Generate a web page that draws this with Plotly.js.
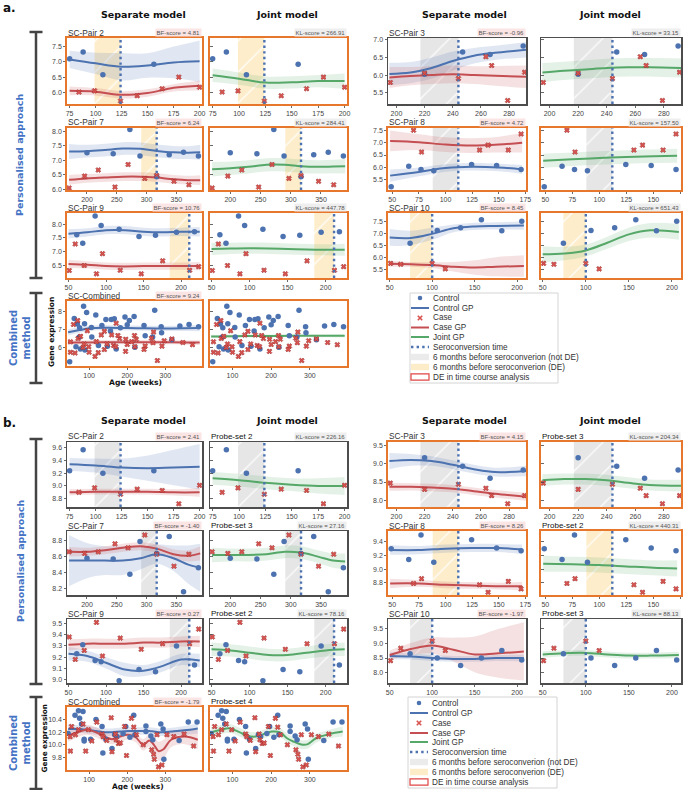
<!DOCTYPE html>
<html><head><meta charset="utf-8">
<script src="https://cdn.plot.ly/plotly-3.0.1.min.js"></script>
<style>body{margin:0;background:#fff}#chart{width:685px;height:790px}</style>
</head><body><div id="chart"></div>
<script>
// ---------- DATA ----------
// Pair 2
var p2_ctrlX = [75, 88, 107, 156];
var p2_caseX = [84, 99, 124, 140, 164, 180, 200];
var p2_window = [99, 124];
var a2_ctrlY = [7.10, 7.32, 6.58, 6.92];
var a2_caseY = [6.01, 6.05, 5.72, 5.89, 6.12, 6.50, 6.17];
var b2_ctrlY = [9.24, 9.57, 9.20, 9.24];
var b2_caseY = [8.90, 8.97, 8.87, 8.95, 8.93, 8.72, 9.01];
var p2_gpX = [75, 100, 125, 150, 175, 200];
var a2_ctrlMu = [7.08, 6.95, 6.84, 6.88, 6.98, 7.02];
var a2_ctrlSd = [0.28, 0.35, 0.45, 0.40, 0.52, 0.68];
var a2_caseMu = [6.05, 6.02, 5.92, 5.98, 6.15, 6.22];
var a2_caseSd = [0.14, 0.12, 0.12, 0.12, 0.12, 0.16];
var a2_jointMu = [6.56, 6.45, 6.32, 6.33, 6.37, 6.37];
var a2_jointSd = [0.22, 0.20, 0.20, 0.20, 0.20, 0.25];
var b2_ctrlMu = [9.34, 9.32, 9.29, 9.28, 9.29, 9.30];
var b2_ctrlSd = [0.10, 0.11, 0.14, 0.20, 0.28, 0.36];
var b2_caseMu = [8.90, 8.91, 8.91, 8.91, 8.90, 8.90];
var b2_caseSd = [0.05, 0.045, 0.045, 0.045, 0.05, 0.07];
var b2_jointMu = [9.12, 9.09, 9.05, 9.02, 9.00, 9.00];
var b2_jointSd = [0.10, 0.10, 0.10, 0.10, 0.12, 0.14];
// Pair 7
var p7_ctrlX = [200, 244, 272, 289, 317, 338, 362, 387];
var p7_caseX = [170, 196, 219, 247, 269, 297, 317, 346, 371];
var p7_window = [291, 317];
var a7_ctrlY = [7.27, 7.23, 8.07, 7.15, 6.44, 7.20, 7.28, 7.15];
var a7_caseY = [6.05, 6.46, 6.67, 6.08, 6.86, 6.38, 6.48, 6.28, 6.16];
var b7_ctrlY = [8.58, 8.57, 8.38, 8.79, 8.64, 8.85, 8.16, 8.46];
var b7_caseY = [8.66, 8.64, 8.66, 8.76, 8.71, 8.87, 8.63, 8.48, 8.63];
var p7_gpX = [170, 200, 230, 260, 290, 317, 345, 370, 390];
var a7_ctrlMu = [7.31, 7.32, 7.36, 7.41, 7.40, 7.33, 7.28, 7.27, 7.28];
var a7_ctrlSd = [0.26, 0.22, 0.22, 0.22, 0.22, 0.22, 0.22, 0.22, 0.26];
var a7_caseMu = [6.33, 6.38, 6.41, 6.44, 6.44, 6.41, 6.35, 6.32, 6.32];
var a7_caseSd = [0.17, 0.15, 0.15, 0.15, 0.15, 0.15, 0.15, 0.15, 0.17];
var a7_jointMu = [6.70, 6.73, 6.78, 6.85, 6.85, 6.80, 6.78, 6.79, 6.80];
var a7_jointSd = [0.25, 0.23, 0.23, 0.23, 0.23, 0.23, 0.23, 0.23, 0.25];
var b7_ctrlMu = [8.55, 8.55, 8.55, 8.55, 8.58, 8.63, 8.58, 8.50, 8.46];
var b7_ctrlSd = [0.32, 0.22, 0.18, 0.18, 0.14, 0.12, 0.16, 0.24, 0.30];
var b7_caseMu = [8.66, 8.66, 8.68, 8.71, 8.73, 8.70, 8.63, 8.61, 8.64];
var b7_caseSd = [0.06, 0.05, 0.05, 0.05, 0.05, 0.05, 0.06, 0.07, 0.09];
var b7_jointMu = [8.62, 8.62, 8.62, 8.63, 8.66, 8.65, 8.60, 8.55, 8.54];
var b7_jointSd = [0.09, 0.08, 0.08, 0.08, 0.08, 0.08, 0.08, 0.09, 0.10];
// Pair 9
var p9_ctrlX = [61, 69, 85.5, 93.5, 117.5, 144, 166, 194, 218];
var p9_caseX = [51, 59, 71, 87.3, 95.3, 119, 147, 175.5, 211.5, 223.6];
var p9_window = [185, 211];
var a9_ctrlY = [7.61, 7.31, 8.29, 7.95, 7.81, 7.55, 7.60, 7.70, 7.72];
var a9_caseY = [6.32, 7.28, 6.50, 6.20, 6.93, 6.33, 6.20, 6.67, 6.33, 6.46];
var b9_ctrlY = [9.23, 9.31, 9.17, 9.16, 8.99, 9.09, 9.07, 9.30, 9.13];
var b9_caseY = [9.38, 9.18, 9.26, 9.51, 9.21, 9.37, 9.27, 9.32, 9.32, 9.45];
var p9_gpX = [50, 75, 100, 125, 150, 175, 200, 225];
var a9_ctrlMu = [7.65, 7.70, 7.78, 7.78, 7.72, 7.70, 7.72, 7.72];
var a9_ctrlSd = [0.17, 0.15, 0.15, 0.15, 0.15, 0.15, 0.15, 0.17];
var a9_caseMu = [6.56, 6.53, 6.48, 6.47, 6.48, 6.48, 6.48, 6.48];
var a9_caseSd = [0.15, 0.13, 0.13, 0.13, 0.13, 0.13, 0.13, 0.15];
var a9_jointMu = [7.10, 7.12, 7.13, 7.12, 7.10, 7.08, 7.07, 7.07];
var a9_jointSd = [0.22, 0.20, 0.20, 0.20, 0.20, 0.20, 0.20, 0.22];
var b9_ctrlMu = [9.23, 9.21, 9.15, 9.09, 9.08, 9.12, 9.18, 9.17];
var b9_ctrlSd = [0.06, 0.05, 0.05, 0.06, 0.05, 0.05, 0.05, 0.06];
var b9_caseMu = [9.31, 9.32, 9.32, 9.32, 9.33, 9.33, 9.34, 9.34];
var b9_caseSd = [0.05, 0.045, 0.045, 0.045, 0.045, 0.045, 0.045, 0.05];
var b9_jointMu = [9.27, 9.26, 9.24, 9.22, 9.22, 9.24, 9.26, 9.27];
var b9_jointSd = [0.06, 0.055, 0.055, 0.055, 0.055, 0.055, 0.055, 0.06];
// Pair 3
var p3_ctrlX = [220, 247, 266.5, 290];
var p3_caseX = [195.6, 220, 244, 263.5, 267.6, 279, 291];
var p3_window = [217, 244];
var a3_ctrlY = [6.02, 6.65, 6.58, 6.82];
var a3_caseY = [5.79, 6.05, 5.90, 6.52, 6.27, 5.28, 6.08];
var b3_ctrlY = [9.16, 8.93, 8.60, 8.83];
var b3_caseY = [8.47, 8.30, 8.44, 8.33, 8.13, 7.91, 8.13];
var p3_gpX = [195, 210, 225, 240, 255, 270, 292];
var a3_ctrlMu = [6.03, 6.07, 6.20, 6.40, 6.55, 6.63, 6.72];
var a3_ctrlSd = [0.32, 0.30, 0.30, 0.27, 0.22, 0.20, 0.22];
var a3_caseMu = [5.93, 5.97, 6.00, 6.02, 6.00, 5.98, 5.95];
var a3_caseSd = [0.30, 0.26, 0.25, 0.25, 0.25, 0.28, 0.32];
var a3_jointMu = [6.07, 6.12, 6.16, 6.20, 6.22, 6.22, 6.20];
var a3_jointSd = [0.27, 0.26, 0.26, 0.26, 0.26, 0.26, 0.27];
var b3_ctrlMu = [9.07, 9.10, 9.07, 8.97, 8.85, 8.77, 8.80];
var b3_ctrlSd = [0.22, 0.16, 0.13, 0.12, 0.12, 0.12, 0.14];
var b3_caseMu = [8.37, 8.37, 8.35, 8.32, 8.25, 8.18, 8.10];
var b3_caseSd = [0.11, 0.10, 0.10, 0.10, 0.10, 0.10, 0.11];
var b3_jointMu = [8.55, 8.58, 8.58, 8.55, 8.48, 8.42, 8.40];
var b3_jointSd = [0.16, 0.15, 0.15, 0.15, 0.15, 0.15, 0.16];
// Pair 8
var p8_ctrlX = [49, 65.5, 77, 89, 124.5, 148, 171];
var p8_caseX = [70, 77.5, 132, 140, 159, 171];
var p8_window = [88, 112];
var a8_ctrlY = [5.22, 6.05, 5.92, 5.87, 6.12, 6.08, 5.92];
var a8_caseY = [7.50, 6.62, 6.70, 6.90, 6.70, 7.35];
var b8_ctrlY = [9.30, 9.14, 9.50, 9.10, 9.43, 9.31, 9.27];
var b8_caseY = [8.79, 8.86, 8.77, 8.66, 8.82, 8.71];
var p8_gpX = [48, 75, 100, 125, 150, 172];
var a8_ctrlMu = [5.67, 5.82, 5.98, 6.03, 6.00, 5.92];
var a8_ctrlSd = [0.25, 0.18, 0.15, 0.15, 0.15, 0.18];
var a8_caseMu = [7.07, 7.02, 6.92, 6.88, 6.92, 7.00];
var a8_caseSd = [0.42, 0.32, 0.30, 0.30, 0.32, 0.40];
var a8_jointMu = [6.27, 6.33, 6.38, 6.42, 6.45, 6.47];
var a8_jointSd = [0.28, 0.27, 0.27, 0.27, 0.27, 0.28];
var b8_ctrlMu = [9.28, 9.28, 9.30, 9.31, 9.31, 9.29];
var b8_ctrlSd = [0.07, 0.06, 0.06, 0.06, 0.06, 0.07];
var b8_caseMu = [8.79, 8.79, 8.77, 8.76, 8.75, 8.75];
var b8_caseSd = [0.07, 0.05, 0.05, 0.05, 0.05, 0.06];
var b8_jointMu = [9.08, 9.07, 9.06, 9.04, 9.02, 9.01];
var b8_jointSd = [0.12, 0.11, 0.11, 0.11, 0.11, 0.12];
// Pair 10
var p10_ctrlX = [74, 106, 133.5, 158, 182, 205.5];
var p10_caseX = [51, 63, 100, 115.5];
var p10_window = [74, 100];
var a10_ctrlY = [6.58, 7.11, 7.23, 7.56, 7.10, 7.50];
var a10_caseY = [5.74, 5.70, 5.74, 5.51];
var b10_ctrlY = [8.64, 8.50, 8.25, 8.50, 8.75, 8.43];
var b10_caseY = [8.41, 8.83, 9.07, 8.75];
var p10_gpX = [50, 75, 100, 125, 150, 175, 208];
var a10_ctrlMu = [6.82, 6.80, 6.97, 7.20, 7.28, 7.30, 7.32];
var a10_ctrlSd = [0.35, 0.30, 0.25, 0.16, 0.15, 0.15, 0.18];
var a10_caseMu = [5.72, 5.70, 5.67, 5.60, 5.57, 5.60, 5.63];
var a10_caseSd = [0.12, 0.10, 0.12, 0.20, 0.30, 0.40, 0.45];
var a10_jointMu = [6.12, 6.15, 6.28, 6.60, 6.95, 7.12, 7.05];
var a10_jointSd = [0.33, 0.28, 0.25, 0.25, 0.28, 0.30, 0.33];
var b10_ctrlMu = [8.57, 8.55, 8.50, 8.47, 8.47, 8.50, 8.50];
var b10_ctrlSd = [0.12, 0.10, 0.10, 0.10, 0.10, 0.10, 0.12];
var b10_caseMu = [8.60, 8.80, 8.92, 8.78, 8.62, 8.65, 8.72];
var b10_caseSd = [0.15, 0.20, 0.27, 0.40, 0.60, 0.80, 0.98];
var b10_jointMu = [8.62, 8.66, 8.67, 8.62, 8.58, 8.58, 8.60];
var b10_jointSd = [0.11, 0.10, 0.10, 0.10, 0.10, 0.10, 0.11];
// Combined (panel a: pooled raw values of all pairs)
var ac_ctrlX = [].concat(p2_ctrlX, p7_ctrlX, p9_ctrlX, p3_ctrlX, p8_ctrlX, p10_ctrlX);
var ac_ctrlY = [].concat(a2_ctrlY, a7_ctrlY, a9_ctrlY, a3_ctrlY, a8_ctrlY, a10_ctrlY);
var ac_caseX = [].concat(p2_caseX, p7_caseX, p9_caseX, p3_caseX, p8_caseX, p10_caseX);
var ac_caseY = [].concat(a2_caseY, a7_caseY, a9_caseY, a3_caseY, a8_caseY, a10_caseY);
var ac_gpX = [45, 75, 100, 150, 200, 250, 300, 350, 390];
var ac_ctrlMu = [6.85, 6.97, 7.07, 7.10, 7.08, 7.07, 7.06, 7.07, 7.08];
var ac_ctrlSd = [0.17, 0.15, 0.14, 0.14, 0.14, 0.14, 0.14, 0.15, 0.17];
var ac_caseMu = [6.30, 6.28, 6.28, 6.30, 6.30, 6.30, 6.30, 6.28, 6.28];
var ac_caseSd = [0.13, 0.12, 0.12, 0.12, 0.12, 0.12, 0.12, 0.12, 0.13];
var ac_jointMu = [6.62, 6.62, 6.63, 6.64, 6.64, 6.65, 6.65, 6.65, 6.65];
var ac_jointSd = [0.09, 0.08, 0.08, 0.08, 0.08, 0.08, 0.08, 0.08, 0.09];
// Combined (panel b)
var bc_ctrlX = [45, 63, 72, 75, 80, 84, 87, 87, 104, 118, 134, 136, 144, 160, 167, 173, 189, 196, 207, 217, 220, 249, 249, 262, 267, 288, 294, 296, 336, 360, 383];
var bc_ctrlY = [10.18, 10.47, 10.54, 10.42, 10.33, 10.53, 10.09, 10.06, 10.09, 10.40, 10.29, 9.87, 10.09, 9.94, 10.16, 10.13, 10.18, 10.29, 10.12, 10.47, 10.16, 10.21, 10.30, 10.14, 10.08, 10.33, 10.25, 9.77, 10.07, 10.36, 10.36];
var bc_caseX = [50, 51, 54, 64, 72, 84, 91, 98, 107, 120, 134, 137, 146, 158, 160, 169, 171, 177, 182, 193, 198, 211, 217, 224, 242, 264, 269, 271, 278, 282, 291, 304, 322, 349, 374];
var bc_caseY = [10.13, 9.90, 10.29, 10.16, 10.24, 10.33, 9.90, 10.24, 10.06, 10.36, 10.17, 10.13, 10.07, 10.43, 9.89, 10.17, 10.08, 10.02, 10.03, 10.29, 9.83, 10.42, 10.28, 10.16, 10.00, 9.92, 9.85, 9.77, 10.16, 9.65, 9.68, 10.16, 10.13, 10.17, 9.98];
var bc_gpX = [45, 70, 93, 118, 140, 160, 180, 202, 222, 242, 258, 270, 282, 295, 315, 350, 385];
var bc_ctrlMu = [10.25, 10.25, 10.24, 10.22, 10.20, 10.20, 10.21, 10.22, 10.22, 10.22, 10.22, 10.21, 10.20, 10.20, 10.21, 10.23, 10.26];
var bc_ctrlSd = [0.08, 0.06, 0.06, 0.06, 0.06, 0.06, 0.06, 0.06, 0.06, 0.06, 0.06, 0.06, 0.06, 0.06, 0.06, 0.07, 0.08];
var bc_caseMu = [10.15, 10.20, 10.24, 10.20, 10.13, 10.09, 10.13, 10.16, 10.12, 10.00, 10.07, 10.00, 9.90, 9.93, 10.08, 10.13, 10.08];
var bc_caseSd = [0.10, 0.08, 0.08, 0.08, 0.08, 0.08, 0.08, 0.08, 0.08, 0.09, 0.10, 0.12, 0.15, 0.15, 0.12, 0.12, 0.15];
var bc_jointMu = [10.20, 10.24, 10.26, 10.20, 10.14, 10.13, 10.17, 10.21, 10.20, 10.10, 10.05, 10.02, 10.00, 10.01, 10.10, 10.17, 10.21];
var bc_jointSd = [0.08, 0.07, 0.07, 0.07, 0.07, 0.07, 0.07, 0.07, 0.07, 0.07, 0.07, 0.07, 0.07, 0.07, 0.07, 0.07, 0.08];
// Labels / scores (order: Pair 2, 7, 9, Combined, 3, 8, 10)
var pairTitles = ['SC-Pair 2', 'SC-Pair 7', 'SC-Pair 9', 'SC-Combined', 'SC-Pair 3', 'SC-Pair 8', 'SC-Pair 10'];
var aBF = ['4.81', '6.24', '10.76', '9.24', '-0.96', '4.72', '8.45'];
var aKL = ['266.91', '284.41', '447.78', '', '33.15', '157.50', '651.43'];
var bBF = ['2.41', '-1.40', '0.27', '-1.79', '4.15', '8.26', '-1.97'];
var bKL = ['226.16', '27.16', '78.16', '', '204.34', '440.31', '88.13'];
var bProbe = ['Probe-set 2', 'Probe-set 3', 'Probe-set 2', 'Probe-set 4', 'Probe-set 3', 'Probe-set 2', 'Probe-set 3'];
var aDE = [1, 1, 1, 1, 0, 1, 1];
var bDE = [0, 0, 0, 1, 1, 1, 0];
var aWindowDE = [1, 1, 1, 0, 0, 0, 1];
var bWindowDE = [0, 0, 0, 0, 0, 1, 0];
var legendLabels = ['Control', 'Control GP', 'Case', 'Case GP', 'Joint GP', 'Seroconversion time',
  '6 months before seroconverion (not DE)', '6 months before seroconverion (DE)', 'DE in time course analysis'];

// ---------- LAYOUT ----------
const W = 685, H = 790;
const px = x => x / W, py = y => 1 - y / H;
const BLUE = '#4c72b0', RED = '#c44e52', GREEN = '#55a868', ORANGE = '#e8772e', GRAYB = '#4d4d4d';
const BLUEF = 'rgba(76,114,176,0.17)', REDF = 'rgba(196,78,82,0.17)', GREENF = 'rgba(85,168,104,0.16)';
const SHY = 'rgba(250,215,140,0.45)', SHG = 'rgba(190,190,190,0.38)';
const FONT = 'Liberation Sans, Arial, sans-serif';
const BFONT = 'DejaVu Sans, sans-serif';
const COLS = [[67, 202], [210, 347], [388, 526], [541, 681]];
const ROWS = { a: [[38, 104], [128, 190], [213, 278], [301, 366]], b: [[442, 507], [531, 595], [619, 683], [707, 770]] };
const PAIRS = [
  { n: '2', row: 0, side: 0, xr: [72.5, 202.3], xt: [75, 100, 125, 150, 175, 200], ya: [5.62, 7.78], yta: [6, 6.5, 7, 7.5], yb: [8.67, 9.69], ytb: [8.8, 9.0, 9.2, 9.4, 9.6], fa: '.1f', fb: '.1f' },
  { n: '7', row: 1, side: 0, xr: [166.5, 393], xt: [200, 250, 300, 350], ya: [5.98, 8.12], yta: [6, 6.5, 7, 7.5, 8], yb: [8.12, 8.92], ytb: [8.2, 8.4, 8.6, 8.8], fa: '.1f', fb: '.1f' },
  { n: '9', row: 2, side: 0, xr: [48, 228], xt: [50, 100, 150, 200], ya: [6.05, 8.4], yta: [6.5, 7, 7.5, 8], yb: [8.97, 9.54], ytb: [9.0, 9.1, 9.2, 9.3, 9.4, 9.5], fa: '.1f', fb: '.1f' },
  { n: 'c', row: 3, side: 0, xr: [42, 396], xt: [100, 200, 300], ya: [4.98, 8.58], yta: [6, 7, 8], yb: [9.6, 10.6], ytb: [9.8, 10.0, 10.2, 10.4], fa: 'd', fb: '.1f' },
  { n: '3', row: 0, side: 1, xr: [194, 292], xt: [200, 220, 240, 260, 280], ya: [5.18, 7.05], yta: [5.5, 6, 6.5, 7], yb: [7.82, 9.59], ytb: [8, 8.5, 9, 9.5], fa: '.1f', fb: '.1f' },
  { n: '8', row: 1, side: 1, xr: [46, 175.6], xt: [50, 75, 100, 125, 150, 175], ya: [5.09, 7.59], yta: [5.5, 6, 6.5, 7, 7.5], yb: [8.62, 9.56], ytb: [8.8, 9.0, 9.2, 9.4], fa: '.1f', fb: '.1f' },
  { n: '10', row: 2, side: 1, xr: [48, 210.5], xt: [50, 100, 150, 200], ya: [5.13, 7.84], yta: [5.5, 6, 6.5, 7, 7.5], yb: [7.66, 9.81], ytb: [8, 8.5, 9, 9.5], fa: '.1f', fb: '.1f' }
];

const traces = [], shapes = [], annotations = [];
const layout = {
  width: W, height: H, margin: { l: 0, r: 0, t: 0, b: 0 }, showlegend: false,
  paper_bgcolor: '#fff', plot_bgcolor: 'rgba(0,0,0,0)', font: { family: FONT }
};
let axN = 0;
function addAxes(col, rowPx, xr, yr, xt, yt, yfmt, showY, border) {
  axN++;
  const xs = axN === 1 ? 'x' : 'x' + axN, ys = axN === 1 ? 'y' : 'y' + axN;
  const xk = axN === 1 ? 'xaxis' : 'xaxis' + axN, yk = axN === 1 ? 'yaxis' : 'yaxis' + axN;
  const common = { showline: true, mirror: true, linecolor: border, linewidth: border === ORANGE ? 1.8 : 1.5,
    showgrid: false, zeroline: false, fixedrange: true, tickcolor: '#444', tickfont: { family: FONT, size: 7, color: '#444' } };
  layout[xk] = Object.assign({}, common, { domain: [px(col[0]), px(col[1])], anchor: ys, range: xr, tickvals: xt,
    ticks: 'outside', ticklen: 2, tickwidth: 0.8 });
  layout[yk] = Object.assign({}, common, { domain: [py(rowPx[1]), py(rowPx[0])], anchor: xs, range: yr, tickvals: yt,
    tickformat: yfmt, showticklabels: showY, ticks: showY ? 'outside' : 'inside', ticklen: showY ? 2 : 3, tickwidth: 0.8 });
  return [xs, ys];
}

function drawPanel(panel) {
  const rows = ROWS[panel];
  PAIRS.forEach((P, i) => {
    const pre = P.n === 'c' ? panel + 'c' : panel + P.n;
    const g = nm => window[pre + '_' + nm] || window['p' + P.n + '_' + nm];
    const yr = panel === 'a' ? P.ya : P.yb, yt = panel === 'a' ? P.yta : P.ytb, fmt = panel === 'a' ? P.fa : P.fb;
    let rowPx = rows[P.row];
    const de = (panel === 'a' ? aDE : bDE)[i];
    const border = de ? ORANGE : GRAYB;
    for (let m = 0; m < 2; m++) {
      const col = COLS[P.side * 2 + m];
      const [xs, ys] = addAxes(col, rowPx, P.xr, yr, P.xt, yt, fmt, m === 0, border);
      if (P.n !== 'c') {
        const w = window['p' + P.n + '_window'];
        const yel = (panel === 'a' ? aWindowDE : bWindowDE)[i];
        const fc = yel ? SHY : SHG;
        traces.push({ x: [w[0], w[1], w[1], w[0], w[0]], y: [yr[0], yr[0], yr[1], yr[1], yr[0]], xaxis: xs, yaxis: ys,
          mode: 'lines', line: { width: 0 }, fill: 'toself', fillcolor: fc,
          fillpattern: { shape: '/', bgcolor: fc, fgcolor: '#ffffff', fgopacity: 0.9, size: 22, solidity: 0.06 }, hoverinfo: 'skip' });
        shapes.push({ type: 'line', xref: xs, yref: ys + ' domain', x0: w[1], x1: w[1], y0: 0, y1: 1,
          line: { color: BLUE, width: 2.4, dash: '2.4px,3.2px' } });
      }
      const gx = g('gpX');
      const curves = m === 0 ? [['ctrl', BLUE, BLUEF], ['case', RED, REDF]] : [['joint', GREEN, GREENF]];
      curves.forEach(([c, lc, fc]) => {
        const mu = g(c + 'Mu'), sd = g(c + 'Sd');
        traces.push({ x: gx, y: mu.map((v, j) => v - sd[j]), xaxis: xs, yaxis: ys, mode: 'lines', line: { width: 0, shape: 'spline' }, hoverinfo: 'skip' });
        traces.push({ x: gx, y: mu.map((v, j) => v + sd[j]), xaxis: xs, yaxis: ys, mode: 'lines', line: { width: 0, shape: 'spline' }, fill: 'tonexty', fillcolor: fc, hoverinfo: 'skip' });
      });
      curves.forEach(([c, lc]) => {
        traces.push({ x: gx, y: g(c + 'Mu'), xaxis: xs, yaxis: ys, mode: 'lines', line: { width: 2, color: lc, shape: 'spline' } });
      });
      traces.push({ x: g('ctrlX'), y: g('ctrlY'), xaxis: xs, yaxis: ys, mode: 'markers', marker: { symbol: 'circle', size: 5.5, color: BLUE } });
      traces.push({ x: g('caseX'), y: g('caseY'), xaxis: xs, yaxis: ys, mode: 'markers', marker: { symbol: 'x', size: 4.5, color: '#d9534f', line: { color: '#8e2323', width: 0.5 } } });
      // titles
      const ty = py(rowPx[0] - 5.5);
      if (m === 0) {
        annotations.push({ xref: 'paper', yref: 'paper', x: px(col[0]), y: ty, xanchor: 'left', yanchor: 'middle', showarrow: false,
          text: pairTitles[i], borderpad: 0, font: { family: FONT, size: 8.3, color: '#333' } });
        annotations.push({ xref: 'paper', yref: 'paper', x: px(col[1]), y: ty, xanchor: 'right', yanchor: 'middle', showarrow: false,
          text: 'BF-score = ' + (panel === 'a' ? aBF : bBF)[i], bgcolor: '#fbe4e4', borderpad: 0.5, font: { family: FONT, size: 6, color: '#555' } });
      } else {
        if (panel === 'b') annotations.push({ xref: 'paper', yref: 'paper', x: px(col[0]), y: ty, xanchor: 'left', yanchor: 'middle', showarrow: false,
          text: bProbe[i], borderpad: 0, font: { family: FONT, size: 8, color: '#111' } });
        const kl = (panel === 'a' ? aKL : bKL)[i];
        if (kl) annotations.push({ xref: 'paper', yref: 'paper', x: px(col[1]), y: ty, xanchor: 'right', yanchor: 'middle', showarrow: false,
          text: 'KL-score = ' + kl, bgcolor: '#eeeeee', borderpad: 0.5, font: { family: FONT, size: 6, color: '#555' } });
      }
    }
  });
}
drawPanel('a');
drawPanel('b');

function txt(x, y, text, size, opts) {
  annotations.push(Object.assign({ xref: 'paper', yref: 'paper', x: px(x), y: py(y), text: text, showarrow: false,
    xanchor: 'center', yanchor: 'middle', borderpad: 0, font: { family: BFONT, size: size, color: '#111' } }, opts || {}));
}
// headers
[[15, 'a.', 8], [421, 'b.', 423]].forEach(([hy, lab, ly]) => {
  txt(9, ly, '<b>' + lab + '</b>', 12);
  txt(143, hy, '<b>Separate model</b>', 9.5);
  txt(287, hy, '<b>Joint model</b>', 9.5);
  txt(465, hy, '<b>Separate model</b>', 9.5);
  txt(610, hy, '<b>Joint model</b>', 9.5);
});
// brackets
function bracket(x, y0, y1) {
  const L = { color: '#444', width: 2.5 };
  shapes.push({ type: 'line', xref: 'paper', yref: 'paper', x0: px(x), x1: px(x), y0: py(y0), y1: py(y1), line: L });
  shapes.push({ type: 'line', xref: 'paper', yref: 'paper', x0: px(x - 6.5), x1: px(x + 6.5), y0: py(y0), y1: py(y0), line: L });
  shapes.push({ type: 'line', xref: 'paper', yref: 'paper', x0: px(x - 6.5), x1: px(x + 6.5), y0: py(y1), y1: py(y1), line: L });
}
bracket(36, 32, 278); bracket(36, 293, 383);
bracket(36, 439, 684); bracket(36, 697, 789);
const SB = { textangle: -90, font: { family: BFONT, size: 9.5, color: '#4472c4' } };
txt(20, 155, '<b>Personalised approach</b>', 9.5, SB);
txt(20, 338, '<b>Combined<br>method</b>', 10, { textangle: -90, font: { family: BFONT, size: 10, color: '#4472c4' } });
txt(20, 561, '<b>Personalised approach</b>', 9.5, SB);
txt(20, 743, '<b>Combined<br>method</b>', 10, { textangle: -90, font: { family: BFONT, size: 10, color: '#4472c4' } });
txt(51, 332, '<b>Gene expression</b>', 7.5, { textangle: -90 });
txt(43.5, 738, '<b>Gene expression</b>', 7.3, { textangle: -90 });
txt(135, 382.5, '<b>Age (weeks)</b>', 7.6);
txt(138, 786, '<b>Age (weeks)</b>', 7.4);

// legends
function legend(x0, y0, x1, y1, rowsY, sx, tx) {
  shapes.push({ type: 'rect', xref: 'paper', yref: 'paper', x0: px(x0), x1: px(x1), y0: py(y1), y1: py(y0), line: { color: '#d4d4d4', width: 1 }, fillcolor: '#fff' });
  const P = (a, b, c, d, line) => shapes.push({ type: 'line', xref: 'paper', yref: 'paper', x0: px(a), y0: py(b), x1: px(c), y1: py(d), line: line });
  let y = rowsY[0];
  shapes.push({ type: 'circle', xref: 'paper', yref: 'paper', x0: px(sx - 2.3), x1: px(sx + 2.3), y0: py(y + 2.3), y1: py(y - 2.3), fillcolor: BLUE, line: { width: 0 } });
  P(sx - 9, rowsY[1], sx + 9, rowsY[1], { color: BLUE, width: 2 });
  y = rowsY[2];
  P(sx - 2.2, y - 2.2, sx + 2.2, y + 2.2, { color: '#d9534f', width: 1.6 });
  P(sx - 2.2, y + 2.2, sx + 2.2, y - 2.2, { color: '#d9534f', width: 1.6 });
  P(sx - 9, rowsY[3], sx + 9, rowsY[3], { color: RED, width: 2 });
  P(sx - 9, rowsY[4], sx + 9, rowsY[4], { color: GREEN, width: 2 });
  P(sx - 9, rowsY[5], sx + 9, rowsY[5], { color: BLUE, width: 2.4, dash: '2.4px,3.2px' });
  const R = (yy, fill, line) => shapes.push({ type: 'rect', xref: 'paper', yref: 'paper', x0: px(sx - 9), x1: px(sx + 9), y0: py(yy + 3.2), y1: py(yy - 3.2), fillcolor: fill, line: line });
  R(rowsY[6], '#ebebeb', { width: 0 });
  R(rowsY[7], '#fcecc8', { width: 0 });
  R(rowsY[8], 'rgba(0,0,0,0)', { color: '#e04545', width: 1.2 });
  legendLabels.forEach((t, k) => {
    annotations.push({ xref: 'paper', yref: 'paper', x: px(tx), y: py(rowsY[k]), xanchor: 'left', yanchor: 'middle', showarrow: false,
      text: t, borderpad: 0, font: { family: FONT, size: 8.2, color: '#333' } });
  });
}
legend(410, 293, 558, 383, [298, 308, 318, 327.5, 337, 347, 357, 367, 377], 420, 432);
legend(408, 697, 557, 788, [703, 713, 723, 733, 742, 752, 762, 772, 782], 419, 431);

layout.shapes = shapes;
layout.annotations = annotations;
Plotly.newPlot('chart', traces, layout, { staticPlot: true, displayModeBar: false });
</script></body></html>
